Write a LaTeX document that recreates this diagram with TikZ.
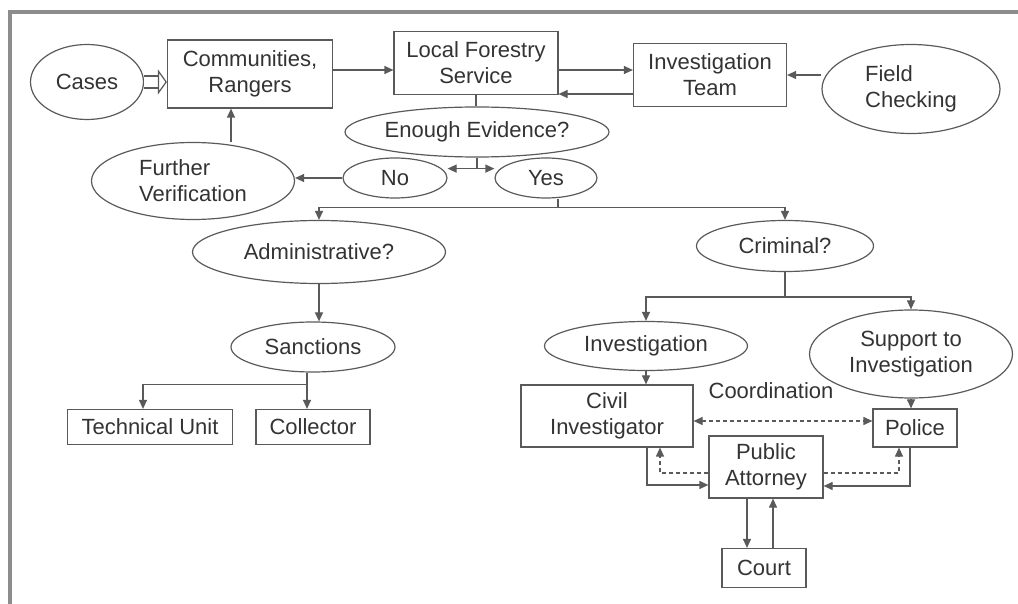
\documentclass[tikz,border=0pt]{standalone}
\usepackage{fontspec}
\setmainfont{Liberation Sans}
\usetikzlibrary{arrows.meta,shapes.geometric}

\definecolor{linegray}{HTML}{5A5A5A}
\definecolor{textgray}{HTML}{333333}
\definecolor{framegray}{HTML}{8C8C8C}

\tikzset{
  base/.style={draw=linegray, text=textgray, line width=0.6pt, inner sep=0pt,
    font=\fontsize{11}{13}\selectfont, align=center},
  oval/.style={base, ellipse},
  box/.style={base, rectangle},
  plain/.style={draw=linegray, line width=0.6pt},
  link/.style={plain, ->},
  coordlink/.style={plain, dash pattern=on 2pt off 1.5pt},
  >={Triangle[length=4.5pt,width=4pt]}
}

\begin{document}
\begin{tikzpicture}[x=0.5pt, y=-0.5pt]
    \useasboundingbox (0,0) rectangle (1018,604);
    % Frame
    \draw[framegray, line width=2pt] (10,604) -- (10,12) -- (1018,12);
    % Reporting
    \node[oval, minimum width=56.5pt, minimum height=37.5pt] (cases) at (87,82) {Cases};
    \node[box, minimum width=82.5pt, minimum height=34pt] (comm) at (250,74) {Communities,\\Rangers};
    \node[box, minimum width=82pt, minimum height=31.5pt] (lfs) at (476,63) {Local Forestry\\Service};
    \node[box, minimum width=76.5pt, minimum height=31.5pt] (team) at (710,75) {Investigation\\Team};
    \node[oval, minimum width=89pt, minimum height=44.5pt, align=left] (field) at (911,89) {Field\\Checking};
    \node[oval, minimum width=101.5pt, minimum height=38.5pt, align=left] (verif) at (193,181) {Further\\Verification};
    \coordinate (casestip) at (cases.east -| comm.west);
    \draw[plain, double distance=5.4pt, shorten >=4.5pt] (cases.east) -- (casestip);
    \draw[plain, -{Triangle[open, length=4.5pt, width=12.5pt]}] ([xshift=-4.6pt]casestip) -- (casestip);
    \draw[link] ([yshift=2pt]comm.east) -- ([yshift=2pt]comm.east -| lfs.west);
    \draw[link] ([yshift=-3.5pt]lfs.east) -- ([yshift=-3.5pt]lfs.east -| team.west);
    \draw[link] ([yshift=-9.5pt]team.west) -- ([yshift=-9.5pt]team.west -| lfs.east);
    \draw[link] (field.west |- team.east) -- (team.east);
    \draw[link] ([xshift=19pt]verif.north) -- ([xshift=19pt]verif.north |- comm.south);
    % Decision
    \node[oval, minimum width=132pt, minimum height=25pt] (evid) at (477,132) {Enough Evidence?};
    \node[oval, minimum width=52pt, minimum height=20pt] (no) at (395,178) {No};
    \node[oval, minimum width=51pt, minimum height=20pt] (yes) at (546,178) {Yes};
    \coordinate (evsplit) at ([yshift=-5.5pt]evid.south);
    \coordinate (yessplit) at ([xshift=6pt, yshift=-4.5pt]yes.south);
    \draw[plain] (lfs.south) -- (lfs.south |- evid.north);
    \draw[plain] (evid.south) -- (evsplit);
    \draw[plain, <->] (no.east |- evsplit) -- (yes.west |- evsplit);
    \draw[link] (no.west) -- (no.west -| verif.east);
    \draw[plain] (yessplit |- yes.south) -- (yessplit);
    % Administrative
    \node[oval, minimum width=126.5pt, minimum height=31.5pt] (admin) at (319,252) {Administrative?};
    \node[oval, minimum width=82pt, minimum height=25pt] (sanct) at (313,347) {Sanctions};
    \node[box, minimum width=82.5pt, minimum height=17.5pt] (tech) at (150,427) {Technical Unit};
    \node[box, minimum width=57pt, minimum height=17.5pt] (coll) at (313,427) {Collector};
    \coordinate (sansplit) at ([xshift=-3pt, yshift=-6pt]sanct.south);
    \draw[link] (yessplit) -| (admin.north);
    \draw[link] (admin.south) -- (admin.south |- sanct.north);
    \draw[plain] (sansplit |- sanct.south) -- (sansplit);
    \draw[link] (sansplit) -| ([xshift=-3.5pt]tech.north);
    \draw[link] (sansplit) -- (sansplit |- coll.north);
    % Criminal
    \node[oval, minimum width=88.5pt, minimum height=25.5pt] (crim) at (785,246) {Criminal?};
    \node[oval, minimum width=101.5pt, minimum height=24.5pt] (invest) at (646,346) {Investigation};
    \node[oval, minimum width=101.5pt, minimum height=44pt] (support) at (911,354) {Support to\\Investigation};
    \node[box, minimum width=86pt, minimum height=31pt] (civil) at (607,416) {Civil\\Investigator};
    \node[box, minimum width=42pt, minimum height=19pt] (police) at (915,428) {Police};
    \node[box, minimum width=57pt, minimum height=31pt] (attorney) at (766,467) {Public\\Attorney};
    \node[box, minimum width=42pt, minimum height=19.5pt] (court) at (764,568) {Court};
    \node[text=textgray, font=\fontsize{11}{13}\selectfont] (coordlbl) at (771,391) {Coordination};
    \coordinate (crimsplit) at ([yshift=-12.5pt]crim.south);
    \draw[link] (yessplit) -| (crim.north);
    \draw[plain] (crim.south) -- (crimsplit);
    \draw[link] (crimsplit) -| (invest.north);
    \draw[link] (crimsplit) -| (support.north);
    \draw[link] (invest.south) -- (invest.south |- civil.north);
    \draw[link] (support.south) -- (support.south |- police.north);
    \draw[coordlink, <->] ([yshift=-2.5pt]civil.east) -- ([yshift=-2.5pt]civil.east -| police.west);
    \draw[link] ([xshift=20pt]civil.south) |- ([yshift=-9pt]attorney.west);
    \draw[coordlink, ->] ([yshift=-3pt]attorney.west) -| ([xshift=26.5pt]civil.south);
    \draw[link] ([xshift=-2.5pt]police.south) |- ([yshift=-9.5pt]attorney.east);
    \draw[coordlink, ->] ([yshift=-3pt]attorney.east) -| ([xshift=-8pt]police.south);
    \draw[link] ([xshift=-9.5pt]attorney.south) -- ([xshift=-9.5pt]attorney.south |- court.north);
    \draw[link] ([xshift=4.5pt]court.north) -- ([xshift=4.5pt]court.north |- attorney.south);
\end{tikzpicture}
\end{document}
